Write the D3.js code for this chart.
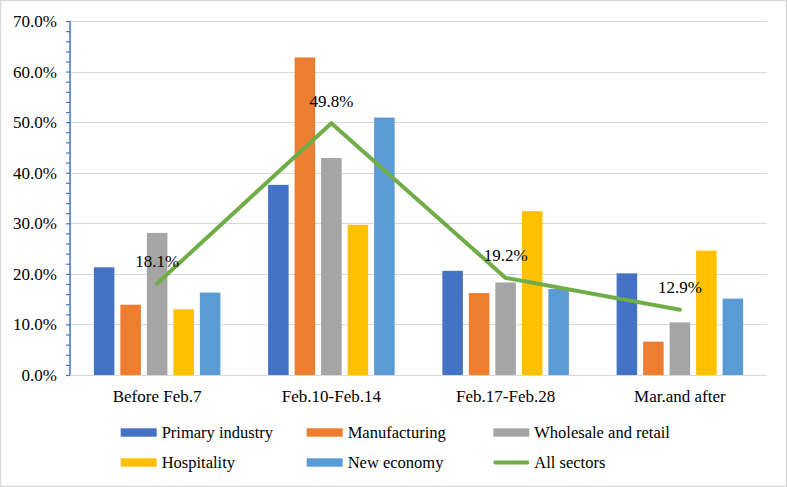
<!DOCTYPE html>
<html>
<head>
<meta charset="utf-8">
<script src="https://cdn.jsdelivr.net/npm/d3@7/dist/d3.min.js"></script>
<style>
  html, body { margin: 0; padding: 0; background: #fff; }
  svg text { font-family: "Liberation Serif", "Times New Roman", "DejaVu Serif", serif; }
</style>
</head>
<body>
<svg id="chart" width="788" height="487"></svg>
<script>
const categories = ["Before Feb.7", "Feb.10-Feb.14", "Feb.17-Feb.28", "Mar.and after"];
const seriesNames = ["Primary industry", "Manufacturing", "Wholesale and retail", "Hospitality", "New economy"];
const primaryIndustry = [21.3, 37.6, 20.6, 20.1];
const manufacturing = [13.9, 62.8, 16.2, 6.6];
const wholesaleRetail = [28.1, 42.9, 18.3, 10.4];
const hospitality = [13.0, 29.7, 32.4, 24.6];
const newEconomy = [16.3, 50.9, 17.0, 15.1];
const allSectors = [18.1, 49.8, 19.2, 12.9];
const lineName = "All sectors";
const yTicks = [0, 10, 20, 30, 40, 50, 60, 70];
const colors = ["#4472c4", "#ed7d31", "#a5a5a5", "#ffc000", "#5b9bd5"];
const lineColor = "#70ad47";

const seriesValues = [primaryIndustry, manufacturing, wholesaleRetail, hospitality, newEconomy];

const FONT = "Liberation Serif, Times New Roman, serif";
const svg = d3.select("#chart").attr("font-family", FONT);
const W = 788, H = 487;
const pLeft = 70, pRight = 767, pTop = 21, pBottom = 375;

svg.append("rect").attr("x", 0.5).attr("y", 0.5).attr("width", W - 2).attr("height", H - 1)
  .attr("fill", "#fff").attr("stroke", "#d9d9d9").attr("stroke-width", 1.5);

const y = d3.scaleLinear().domain([0, 70]).range([pBottom, pTop]);
const x0 = d3.scaleBand().domain(categories).range([pLeft, pRight]).paddingInner(0).paddingOuter(0);
const x1 = d3.scaleBand().domain(seriesNames).range([0, x0.bandwidth()]).paddingInner(0.225).paddingOuter(0.9);

// gridlines
svg.append("g").selectAll("line").data(yTicks.filter(d => d > 0)).join("line")
  .attr("x1", pLeft).attr("x2", pRight)
  .attr("y1", d => Math.round(y(d)) + 0.5).attr("y2", d => Math.round(y(d)) + 0.5)
  .attr("stroke", "#d9d9d9").attr("stroke-width", 1.2);

// bars
const gBars = svg.append("g");
seriesValues.forEach((vals, si) => {
  gBars.append("g").selectAll("rect").data(vals).join("rect")
    .attr("x", (d, i) => x0(categories[i]) + x1(seriesNames[si]))
    .attr("width", x1.bandwidth())
    .attr("y", d => y(d))
    .attr("height", d => y(0) - y(d))
    .attr("fill", colors[si]);
});

// x axis baseline
svg.append("line").attr("x1", pLeft).attr("x2", pRight)
  .attr("y1", Math.round(y(0)) + 0.5).attr("y2", Math.round(y(0)) + 0.5)
  .attr("stroke", "#d9d9d9").attr("stroke-width", 1.2);

// y axis with minor ticks
const yAxis = d3.axisLeft(y).tickValues(d3.range(0, 71, 2)).tickSize(4).tickFormat("");
const gy = svg.append("g").attr("transform", `translate(${pLeft},0)`).call(yAxis);
gy.select(".domain").attr("stroke", "#4472c4").attr("stroke-width", 1.5).attr("d", `M0,${y(70)}V${y(0)}`);
gy.selectAll(".tick line").attr("stroke", "#4472c4").attr("stroke-width", 1.2);

// y tick labels
svg.append("g").selectAll("text").data(yTicks).join("text")
  .attr("font-family", FONT)
  .attr("x", 57).attr("y", d => y(d) + 6)
  .attr("text-anchor", "end").attr("font-size", 17).attr("fill", "#000")
  .text(d => d.toFixed(1) + "%");

// category labels
svg.append("g").selectAll("text").data(categories).join("text")
  .attr("font-family", FONT)
  .attr("x", d => x0(d) + x0.bandwidth() / 2).attr("y", 401.5)
  .attr("text-anchor", "middle").attr("font-size", 17).attr("fill", "#000")
  .text(d => d);

// line
const cx = d => x0(d) + x0.bandwidth() / 2;
const line = d3.line().x((d, i) => cx(categories[i])).y(d => y(d));
svg.append("path").datum(allSectors).attr("d", line)
  .attr("fill", "none").attr("stroke", lineColor).attr("stroke-width", 4)
  .attr("stroke-linejoin", "round").attr("stroke-linecap", "round");

// data labels
svg.append("g").selectAll("text").data(allSectors).join("text")
  .attr("font-family", FONT)
  .attr("x", (d, i) => cx(categories[i])).attr("y", d => y(d) - 16.5)
  .attr("text-anchor", "middle").attr("font-size", 17).attr("fill", "#000")
  .text(d => d.toFixed(1) + "%");

// legend
const legendItems = [
  { name: seriesNames[0], color: colors[0], type: "rect", x: 120.7, row: 0 },
  { name: seriesNames[1], color: colors[1], type: "rect", x: 306.7, row: 0 },
  { name: seriesNames[2], color: colors[2], type: "rect", x: 493.3, row: 0 },
  { name: seriesNames[3], color: colors[3], type: "rect", x: 120.7, row: 1 },
  { name: seriesNames[4], color: colors[4], type: "rect", x: 306.7, row: 1 },
  { name: lineName, color: lineColor, type: "line", x: 493.3, row: 1 }
];
const rowY = [432.5, 462.5];
const lg = svg.append("g");
legendItems.forEach(it => {
  const cy = rowY[it.row];
  if (it.type === "rect") {
    lg.append("rect").attr("x", it.x).attr("y", cy - 4.2).attr("width", 36).attr("height", 8.4).attr("fill", it.color);
  } else {
    lg.append("line").attr("x1", it.x + 2).attr("x2", it.x + 34).attr("y1", cy).attr("y2", cy)
      .attr("stroke", it.color).attr("stroke-width", 4).attr("stroke-linecap", "round");
  }
  lg.append("text").attr("font-family", FONT).attr("x", it.x + 41).attr("y", cy + 5.5)
    .attr("font-size", 16.5).attr("fill", "#000").text(it.name);
});
</script>
</body>
</html>
